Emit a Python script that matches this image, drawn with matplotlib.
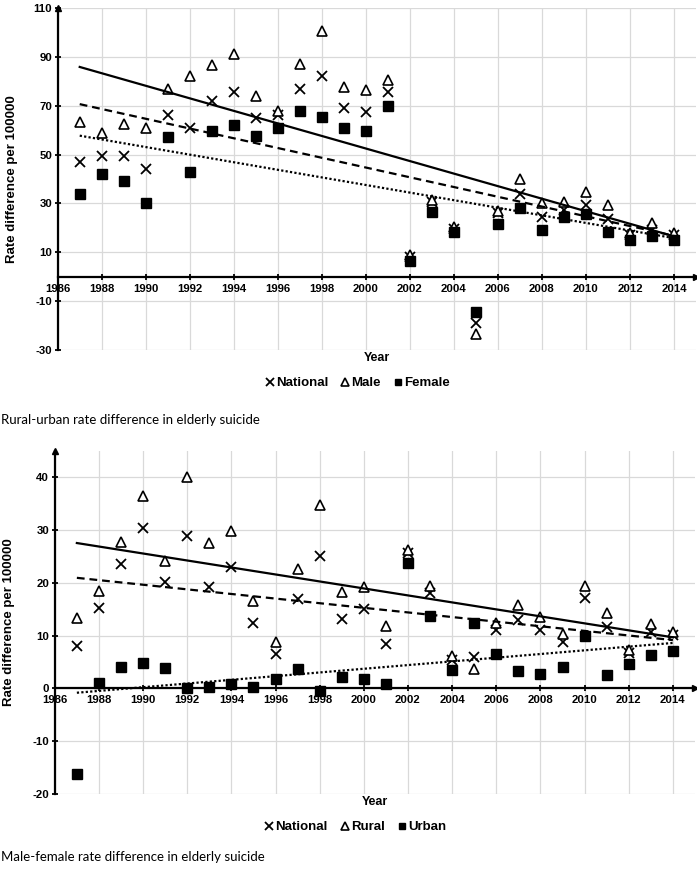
import matplotlib as mpl
mpl.use("agg")
import matplotlib.pyplot as plt
import numpy as np

plt.rcParams["axes.unicode_minus"] = False

years = np.arange(1987, 2015)
year_ticks = np.arange(1986, 2015, 2)

# rural-urban rate difference
ru_national = [47, 49.5, 49.5, 44, 66, 61, 72, 75.5, 65, 66, 77, 82, 69, 67.5,
               75.5, 8, 30.5, 19.5, -19, 26, 34, 24.5, 27.5, 29.5, 23.5, 17, 19, 17]
ru_male = [63.5, 59, 62.5, 61, 77, 82, 86.5, 91, 74, 68, 87, 100.5, 77.5, 76.5,
           80.5, 9, 31.5, 20.5, -23.5, 27, 40, 30, 30.5, 34.5, 29.5, 18, 22, 18]
ru_female = [34, 42, 39, 30, 57, 43, 59.5, 62, 57.5, 61, 68, 65.5, 61, 59.5,
             70, 6.5, 26.5, 18.5, -14.5, 21.5, 28, 19, 24.5, 25.5, 18.5, 15, 16.5, 15]

# male-female rate difference
mf_national = [8, 15.2, 23.6, 30.5, 20.2, 28.9, 19.3, 23.1, 12.5, 6.5, 16.9, 25.1, 13.1, 15,
               8.5, 25.7, 18, 5.3, 6, 11.1, 13, 11.1, 8.8, 17.1, 11.7, 6.8, 10.7, 10.1]
mf_rural = [13.4, 18.5, 27.7, 36.5, 24.2, 40, 27.5, 29.9, 16.6, 8.8, 22.6, 34.8, 18.3, 19.3,
            11.8, 26.2, 19.4, 6.1, 3.6, 12.5, 15.8, 13.6, 10.4, 19.5, 14.3, 7.3, 12.2, 10.7]
mf_urban = [-16.2, 1.1, 4.1, 4.9, 3.8, 0, 0.3, 0.8, 0.3, 1.7, 3.7, -0.5, 2.1, 1.7,
            0.9, 23.8, 13.8, 3.5, 12.5, 6.5, 3.3, 2.7, 4, 9.9, 2.6, 4.7, 6.3, 7.1]

FONT = "Liberation Sans"


def draw(ax, series, names, ylim, yticks, caption_y, caption):
    nat, grp_a, grp_b = series

    ax.set_xlim(1986, 2015)
    ax.set_ylim(*ylim)
    ax.set_xticks(year_ticks)
    ax.set_yticks(yticks)
    ax.grid(True, color="#d9d9d9", lw=0.9)
    ax.set_axisbelow(True)

    ax.plot(years, nat, "x", color="k", ms=7, mew=1.3, ls="none", label=names[0], zorder=3)
    ax.plot(years, grp_a, "^", mfc="white", mec="k", ms=7, mew=1.2, ls="none",
            label=names[1], zorder=3)
    ax.plot(years, grp_b, "s", color="k", ms=6.5, ls="none", label=names[2], zorder=3)

    # linear trend lines
    styles = [(0, (3.5, 2.2)), "-", (0, (1, 1))]
    for vals, st in zip(series, styles):
        k, b = np.polyfit(years, vals, 1)
        ax.plot(years, k * years + b, color="k", ls=st, lw=1.6, zorder=4)

    for s in ["top", "right"]:
        ax.spines[s].set_visible(False)
    ax.spines["bottom"].set_position(("data", 0))
    ax.spines["left"].set_linewidth(1.6)
    ax.spines["bottom"].set_linewidth(1.6)
    ax.plot(1, 0, ">", color="k", ms=4.5, transform=ax.get_yaxis_transform(), clip_on=False)
    ax.plot(1986, 1, "^", color="k", ms=4.5, transform=ax.get_xaxis_transform(), clip_on=False)

    ax.tick_params(direction="inout", length=5, width=1.3, pad=1.5)
    ax.tick_params(axis="x", pad=2.5)
    for lab in ax.get_xticklabels() + ax.get_yticklabels():
        lab.set_family(FONT)
        lab.set_fontweight("bold")
        lab.set_fontsize(8.2)

    ax.set_ylabel("Rate difference per 100000", family=FONT, fontweight="bold", fontsize=9.5)
    ax.yaxis.set_label_coords(-0.062, 0.5)
    ax.text(0.5, -0.024, "Year", transform=ax.transAxes, ha="center", va="center",
            family=FONT, fontweight="bold", fontsize=9)
    ax.legend(loc="center", bbox_to_anchor=(0.47, -0.097), ncol=3, frameon=False,
              handlelength=0.6, handletextpad=0.15, columnspacing=1.0,
              prop={"family": FONT, "weight": "bold", "size": 9.5}, markerscale=0.75)
    ax.figure.text(0.002, caption_y, caption, ha="left", va="center",
                   family="Lato", fontsize=9.5)


fig = plt.figure(figsize=(6.97, 8.72), dpi=100)

ax1 = fig.add_axes([0.0828, 1 - 350 / 872, 0.9158, 342 / 872])
draw(ax1, [ru_national, ru_male, ru_female], ["National", "Male", "Female"],
     (-30, 110), np.arange(-30, 111, 20), 1 - 420 / 872,
     "Rural-urban rate difference in elderly suicide")

ax2 = fig.add_axes([0.0786, 1 - 794 / 872, 0.9185, 343 / 872])
draw(ax2, [mf_national, mf_rural, mf_urban], ["National", "Rural", "Urban"],
     (-20, 45), np.arange(-20, 41, 10), 1 - 857 / 872,
     "Male-female rate difference in elderly suicide")

fig.savefig("out.png", dpi=100)
